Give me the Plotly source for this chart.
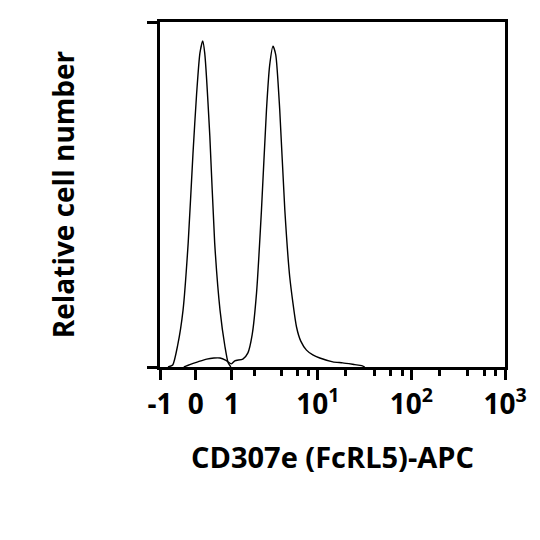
import numpy as np
import plotly.graph_objects as go

# Fluorescence values (APC intensity) and relative cell counts
control_x = [-0.74, -0.60, -0.46, -0.32, -0.19, -0.07, 0.02, 0.10, 0.17, 0.22, 0.35, 0.48, 0.63, 0.78, 0.88, 0.97]
control_y = [0.0, 0.6, 6.4, 16.5, 35.9, 62.0, 79.4, 91.0, 94.5, 91.0, 67.0, 35.9, 16.5, 5.8, 1.2, 0.0]

stained_x = [-0.30, -0.15, 0.05, 0.27, 0.46, 0.63, 0.81, 0.99, 1.11, 1.43, 1.66, 1.87, 2.11, 2.41, 2.75,
             2.99, 3.26, 3.50, 3.87, 4.40, 4.98, 5.90, 6.56, 7.56, 8.84, 10.5, 14.5, 18.5, 24.9, 29.5, 31.8]
stained_y = [0.0, 0.7, 1.5, 2.3, 2.6, 2.6, 1.9, 0.9, 1.8, 2.3, 4.1, 9.3, 21.4, 45.5, 74.5,
             87.5, 93.0, 90.4, 74.5, 45.5, 26.1, 11.6, 7.5, 4.9, 3.5, 2.6, 1.5, 1.2, 0.7, 0.4, 0.0]

major_ticks = [-1, 0, 1, 10, 100, 1000]
major_labels = ["-1", "0", "1", "10<sup>1</sup>", "10<sup>2</sup>", "10<sup>3</sup>"]
minor_ticks = [2, 4, 6, 8, 20, 40, 60, 80, 200, 400, 600, 800]

x_title = "CD307e (FcRL5)-APC"
y_title = "Relative cell number"


def scale(v):
    # biexponential-like (arcsinh) display scale used by the cytometry axis
    return np.arcsinh(np.asarray(v, dtype=float))


fig = go.Figure()
for xs, ys in [(control_x, control_y), (stained_x, stained_y)]:
    fig.add_trace(go.Scatter(x=scale(xs), y=ys, mode="lines",
                             line=dict(color="black", width=1.4, shape="spline", smoothing=0.6),
                             showlegend=False, hoverinfo="skip"))

FONT = "Open Sans"
fig.update_layout(
    width=540, height=540,
    margin=dict(l=152, r=43, t=14, b=181, autoexpand=False),
    paper_bgcolor="white", plot_bgcolor="white",
    font=dict(family=FONT, color="black"),
    xaxis=dict(
        range=[float(scale(-1)), float(scale(1000))],
        showgrid=False, zeroline=False,
        showline=True, linecolor="black", linewidth=3, mirror=True,
        tickmode="array", tickvals=list(scale(major_ticks)), ticktext=major_labels,
        ticks="outside", ticklen=10, tickwidth=3, tickcolor="black",
        tickfont=dict(size=28, family=FONT, weight=700),
        minor=dict(tickmode="array", tickvals=list(scale(minor_ticks)), ticks="outside",
                   ticklen=6, tickwidth=2.5, tickcolor="black"),
        title=dict(text=x_title, font=dict(size=29, family=FONT, weight=700), standoff=28),
        automargin=False,
    ),
    yaxis=dict(
        range=[0, 100],
        showgrid=False, zeroline=False,
        showline=True, linecolor="black", linewidth=3, mirror=True,
        tickmode="array", tickvals=[0, 100], showticklabels=False,
        ticks="outside", ticklen=10, tickwidth=2.5, tickcolor="black",
        title=dict(text=y_title, font=dict(size=28, family=FONT, weight=700), standoff=65),
        automargin=False,
    ),
)

fig.write_html("out.html")
